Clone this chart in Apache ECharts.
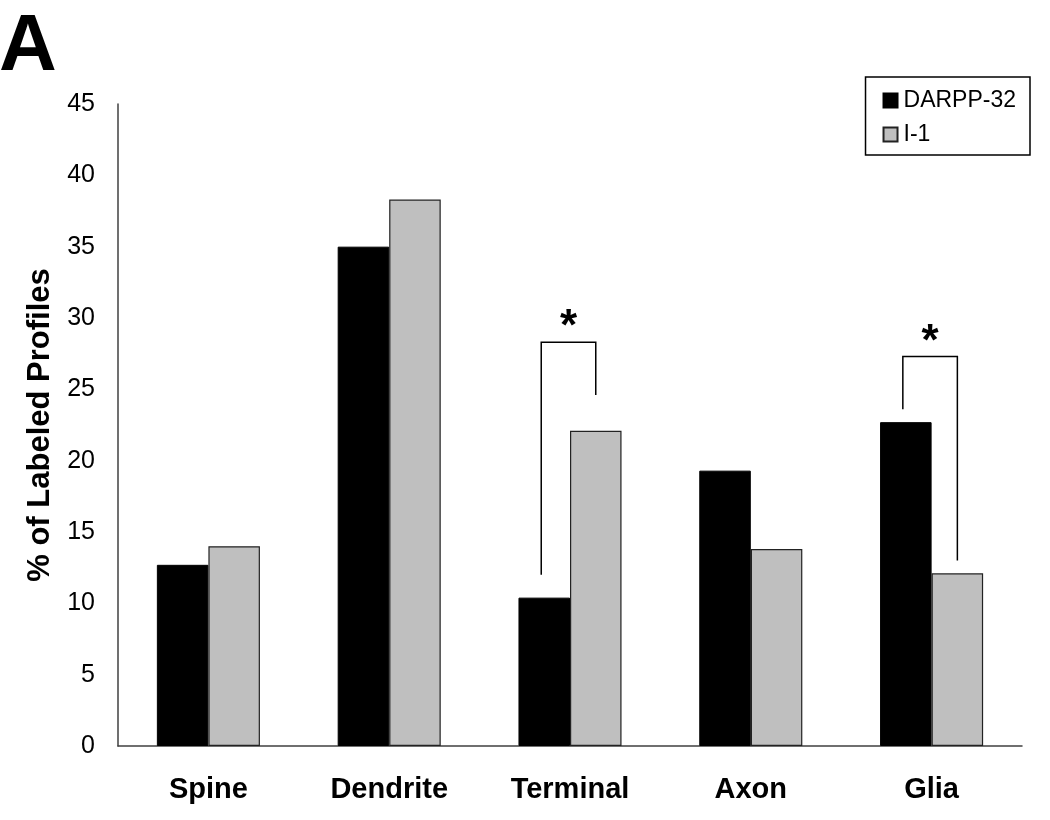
<!DOCTYPE html>
<html><head><meta charset="utf-8">
<script src="https://cdn.jsdelivr.net/npm/echarts@6/dist/echarts.min.js"></script>
<style>html,body{margin:0;padding:0;background:#fff}#c{width:1050px;height:820px}</style>
</head><body><div id="c"></div>
<script>
const categories = ['Spine', 'Dendrite', 'Terminal', 'Axon', 'Glia'];
const darpp32 = [12.7, 35.0, 10.4, 19.3, 22.7];
const i1 = [14.0, 38.3, 22.1, 13.8, 12.1];
const yTicks = [0, 45, 5];
// significance brackets: [category index, left end, top, right end]
const brackets = [[2, 12.0, 28.3, 24.6], [4, 23.6, 27.3, 13.0]];
const sigMark = '*';

const FONT = 'Liberation Sans, Arial, sans-serif';
const BAR_CAT_GAP = 0.43;

const chart = echarts.init(document.getElementById('c'), null, {renderer: 'canvas'});
chart.setOption({
  animation: false,
  backgroundColor: '#fff',
  grid: {left: 118, right: 28, top: 104, bottom: 74},
  legend: {
    data: ['DARPP-32', 'I-1'],
    orient: 'vertical',
    right: 20, top: 77,
    itemWidth: 14, itemHeight: 14, itemGap: 11,
    padding: [12, 14, 9, 17],
    borderColor: '#000', borderWidth: 1.5, borderRadius: 0,
    textStyle: {fontFamily: FONT, fontSize: 23, color: '#000', padding: [0, 0, 0, 1]},
    icon: 'rect'
  },
  graphic: [{
    type: 'text', left: -1, top: 8,
    style: {text: 'A', font: 'bold 80px ' + FONT, fill: '#000'}
  }],
  xAxis: {
    type: 'category', data: categories,
    axisLine: {lineStyle: {color: '#404040', width: 1.5}},
    axisTick: {show: false},
    axisLabel: {fontFamily: FONT, fontSize: 29, fontWeight: 'bold', color: '#000', margin: 29}
  },
  yAxis: {
    type: 'value', min: yTicks[0], max: yTicks[1], interval: yTicks[2],
    name: '% of Labeled Profiles', nameLocation: 'middle', nameGap: 60,
    nameTextStyle: {fontFamily: FONT, fontSize: 31, fontWeight: 'bold', color: '#000'},
    axisLine: {show: true, lineStyle: {color: '#404040', width: 1.5}},
    axisTick: {show: false},
    splitLine: {show: false},
    axisLabel: {fontFamily: FONT, fontSize: 25, color: '#000', margin: 23}
  },
  series: [
    {name: 'DARPP-32', type: 'bar', data: darpp32, barGap: '0%', barCategoryGap: (BAR_CAT_GAP*100)+'%',
     itemStyle: {color: '#000', borderColor: '#000', borderWidth: 1}},
    {name: 'I-1', type: 'bar', data: i1,
     itemStyle: {color: '#bfbfbf', borderColor: '#222', borderWidth: 1.2}},
    {type: 'custom', silent: true, z: 5,
     data: brackets,
     encode: {x: 0, y: 2},
     renderItem: function (params, api) {
       const cat = api.value(0);
       const catW = api.size([1, 0])[0];
       const barW = catW * (1 - BAR_CAT_GAP) / 2;
       const c = api.coord([cat, 0])[0];
       const xl = c - barW / 2 - 3;
       const xr = c + barW / 2;
       const yl = api.coord([cat, api.value(1)])[1];
       const yt = api.coord([cat, api.value(2)])[1];
       const yr = api.coord([cat, api.value(3)])[1];
       return {type: 'group', children: [
         {type: 'polyline', shape: {points: [[xl, yl], [xl, yt], [xr, yt], [xr, yr]]},
          style: {stroke: '#000', lineWidth: 1.5, fill: null}},
         {type: 'text', style: {text: sigMark, x: (xl + xr) / 2, y: yt + 8,
          font: 'bold 44px ' + FONT, fill: '#000', align: 'center', verticalAlign: 'bottom'}}
       ]};
     }}
  ]
});
</script></body></html>
